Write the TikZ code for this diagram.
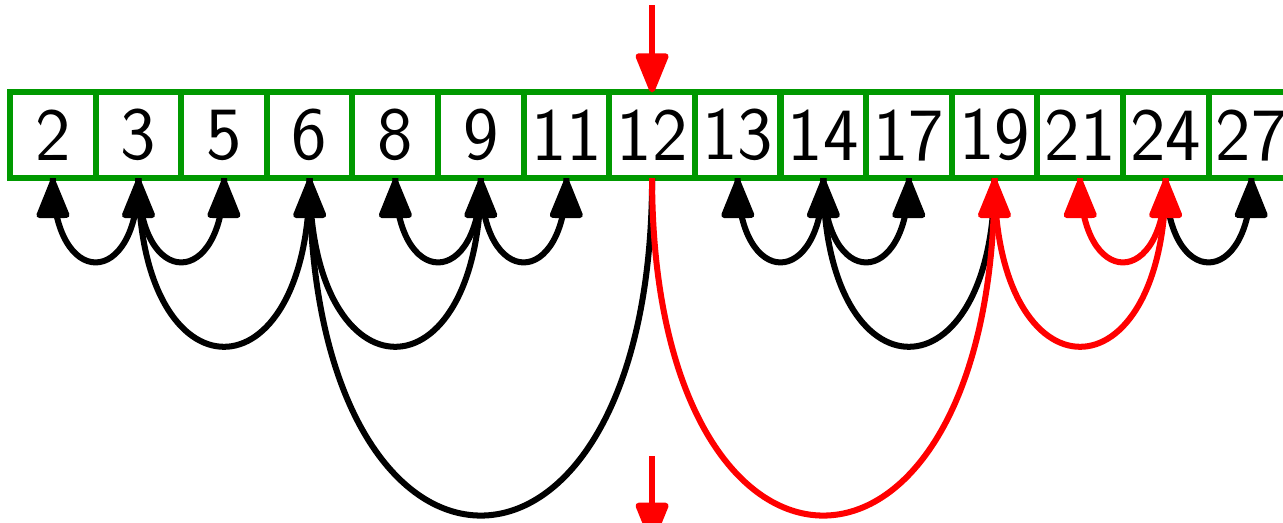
\documentclass[tikz,border=0pt]{standalone}
\usetikzlibrary{arrows.meta,decorations.markings}
\begin{document}
\begin{tikzpicture}[
  cell/.style={draw=green!60!black,line width=2pt,minimum size=1cm,inner sep=0pt,outer sep=0pt,
    font=\sffamily\fontsize{25}{30}\selectfont},
  link/.style={line width=2pt,out=-90,in=-90,looseness=3.37,postaction={decorate},
    decoration={markings,mark=at position -0.3pt with {\arrow{Triangle[length=0.52cm,width=0.4cm,round]}}}},
  drop/.style={red,line width=2pt,-{Triangle[length=0.52cm,width=0.4cm,round]}}]
\useasboundingbox (-0.117,-4.02) rectangle (14.87,2.08);
\foreach \v [count=\i from 0] in {2,3,5,6,8,9,11,12,13,14,17,19,21,24,27}
  \node[cell] (c\v) at (\i+0.5,0.5) {\v};
\draw[link] (c3.south) to (c2.south);
\draw[link] (c3.south) to (c5.south);
\draw[link] (c9.south) to (c8.south);
\draw[link] (c9.south) to (c11.south);
\draw[link] (c6.south) to (c3.south);
\draw[link] (c6.south) to (c9.south);
\draw[link] (c12.south) to (c6.south);
\draw[link] (c14.south) to (c13.south);
\draw[link] (c14.south) to (c17.south);
\draw[link] (c19.south) to (c14.south);
\draw[link] (c24.south) to (c27.south);
\draw[link,red] (c12.south) to (c19.south);
\draw[link,red] (c19.south) to (c24.south);
\draw[link,red] (c24.south) to (c21.south);
\coordinate (feed) at (7.5,2.02);
\coordinate (pass) at (7.5,-3.25);
\coordinate (passend) at (7.5,-4.25);
\draw[drop] (feed) -- (c12.north);
\draw[drop] (pass) -- (passend);
\end{tikzpicture}
\end{document}
